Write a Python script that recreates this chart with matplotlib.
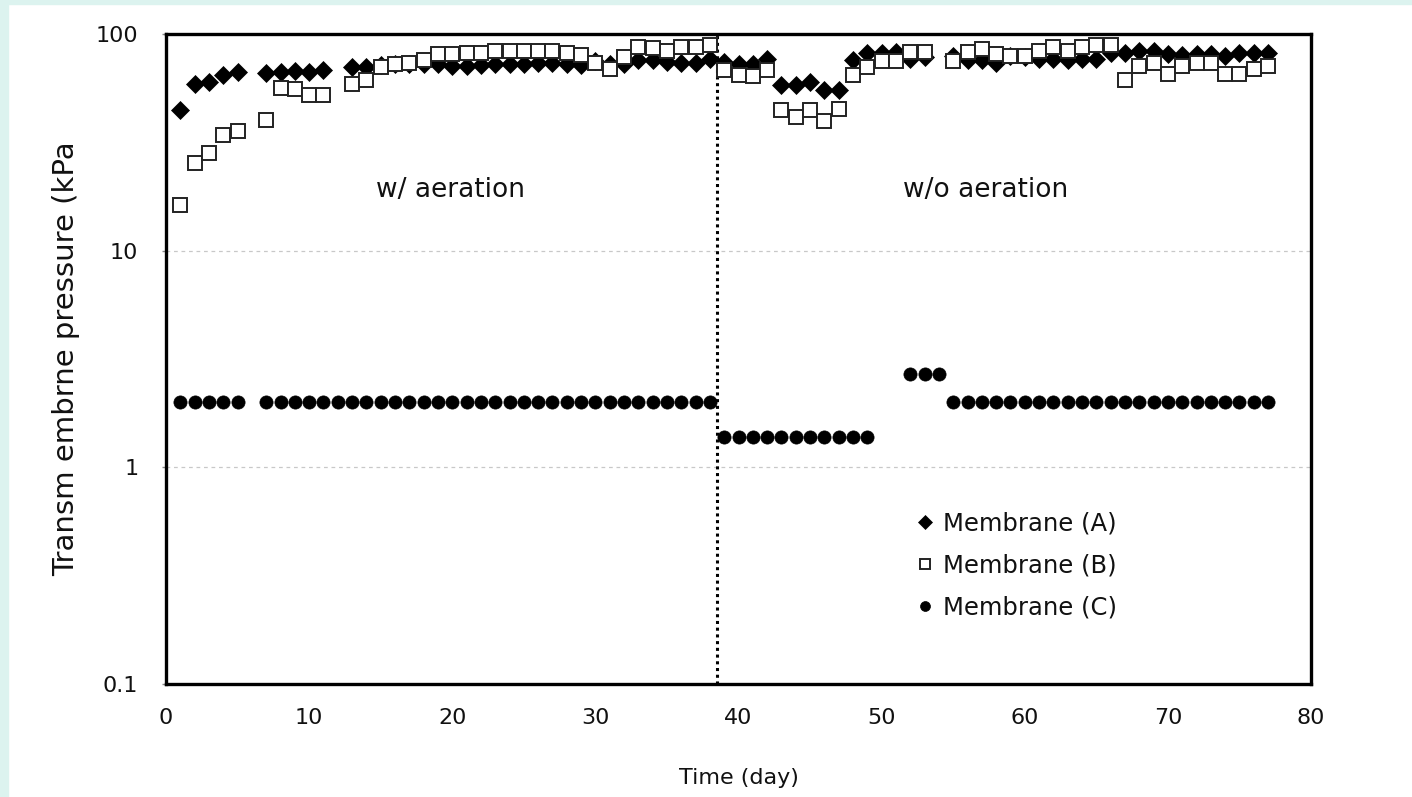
import matplotlib
matplotlib.use("Agg")
import matplotlib.pyplot as plt
from matplotlib.patches import Rectangle
import numpy as np

plt.rcParams['font.family'] = ['DejaVu Sans']

# ---- data ----
days_a = [1, 2, 3, 4, 5, 7, 8, 9, 10, 11, 13, 14, 15, 16, 17, 18, 19, 20,
          21, 22, 23, 24, 25, 26, 27, 28, 29, 30, 31, 32, 33, 34, 35, 36, 37, 38,
          39, 40, 41, 42, 43, 44, 45, 46, 47, 48, 49, 50, 51, 52, 53,
          55, 56, 57, 58, 59, 60, 61, 62, 63, 64, 65, 66, 67, 68, 69, 70,
          71, 72, 73, 74, 75, 76, 77]
tmp_a = [44.6, 58.6, 60.3, 64.7, 66.6, 66, 67, 67.5, 67, 68.2, 70.7, 70.7, 72, 73, 73, 73, 72.5, 71,
         71, 72, 73, 73, 73, 73.5, 73.5, 73, 72, 75, 73, 73, 76, 76, 74.5, 73.5, 73.5, 76.5,
         74.5, 73, 73, 77, 58.2, 58.2, 60.2, 55.2, 55.2, 75.9, 81.4, 81.4, 82.9, 76.4, 78,
         79, 75.9, 75.9, 73.8, 79, 78, 77, 76.4, 75.5, 76.4, 77, 81.4, 81.4, 83.8, 83.8, 81,
         80, 80.9, 80.9, 79, 81.4, 81.4, 81.4]

days_b = [1, 2, 3, 4, 5, 7, 8, 9, 10, 11, 13, 14, 15, 16, 17, 18, 19, 20,
          21, 22, 23, 24, 25, 26, 27, 28, 29, 30, 31, 32, 33, 34, 35, 36, 37, 38,
          39, 40, 41, 42, 43, 44, 45, 46, 47, 48, 49, 50, 51, 52, 53,
          55, 56, 57, 58, 59, 60, 61, 62, 63, 64, 65, 66, 67, 68, 69, 70,
          71, 72, 73, 74, 75, 76, 77]
tmp_b = [16.3, 25.3, 28.1, 34.2, 35.7, 40.1, 56.1, 56, 52.3, 52.3, 58.6, 61.4, 70.7, 72.5, 73.2, 75.9, 80.9, 80.9,
         82, 82, 83.8, 83.8, 83.8, 83.8, 83.8, 81.4, 80, 73.2, 68.7, 78.6, 87.4, 85.9, 83.8, 87.4, 87.4, 89,
         68.2, 64.7, 64, 68.2, 44.6, 41.5, 44.6, 39.8, 45.1, 64.7, 70.7, 75.3, 75.3, 82.9, 82.9,
         75.3, 82.4, 85.5, 80.5, 79.5, 79.5, 83.8, 87.4, 83.8, 87.4, 89, 89, 61.4, 71.2, 73.2, 65.4,
         71.2, 73.2, 73.2, 65.4, 65.4, 68.7, 71.2]

days_c = [1, 2, 3, 4, 5] + list(range(7, 39)) + list(range(39, 50)) + [52, 53, 54] + list(range(55, 78))
tmp_c = [2.0] * 5 + [2.0] * 32 + [1.38] * 11 + [2.7] * 3 + [2.0] * 23

aeration_switch = 38.5
x_ticks = [0, 10, 20, 30, 40, 50, 60, 70, 80]
y_ticks = [0.1, 1, 10, 100]
y_tick_labels = ['0.1', '1', '10', '100']

# ---- figure ----
fig = plt.figure(figsize=(14.12, 7.97), dpi=100)
fig.patch.set_facecolor('white')
teal = '#dcf3ef'
fig.patches.append(Rectangle((0, 0), 8 / 1412, 1, transform=fig.transFigure, color=teal, zorder=0))
fig.patches.append(Rectangle((0, 1 - 4 / 797), 1, 4 / 797, transform=fig.transFigure, color=teal, zorder=0))

ax = fig.add_axes([166 / 1412, 1 - 684 / 797, (1311 - 166) / 1412, (684 - 34) / 797])
ax.set_yscale('log')
ax.set_xlim(0, 80)
ax.set_ylim(0.1, 100)

for yv in [1, 10]:
    ax.axhline(yv, color='#c8c8c8', lw=0.9, ls=(0, (3, 3)), zorder=1)

ax.axvline(aeration_switch, color='black', lw=2.2, ls=(0, (1, 1.2)), zorder=2)

ax.plot(days_a, tmp_a, ls='none', marker='D', ms=9.5, mfc='black', mec='black', mew=0.5,
        label='Membrane (A)', zorder=3)
ax.plot(days_b, tmp_b, ls='none', marker='s', ms=9.5, mfc='white', mec='#222222', mew=1.4,
        label='Membrane (B)', zorder=4)
ax.plot(days_c, tmp_c, ls='none', marker='o', ms=9.5, mfc='black', mec='black', mew=0.5,
        label='Membrane (C)', zorder=3)

ax.set_xticks(x_ticks)
ax.set_xticklabels([str(t) for t in x_ticks])
ax.set_yticks(y_ticks)
ax.set_yticklabels(y_tick_labels)
ax.yaxis.set_minor_locator(matplotlib.ticker.NullLocator())
ax.tick_params(axis='both', labelsize=16, color='#888888', labelcolor='#111111')
ax.tick_params(axis='x', pad=17, length=0)
ax.tick_params(axis='y', pad=17, length=3, width=1)

for sp in ax.spines.values():
    sp.set_linewidth(2.4)
    sp.set_color('black')

ax.set_xlabel('Time (day)', fontsize=16, labelpad=29, color='#111111')
ax.set_ylabel('Transm embrne pressure (kPa', fontsize=21, labelpad=11, color='#111111')

ax.text(19.9, 19, 'w/ aeration', fontsize=19, ha='center', va='center', color='#111111')
ax.text(57.3, 19, 'w/o aeration', fontsize=19, ha='center', va='center', color='#111111')

leg = ax.legend(loc='upper left', bbox_to_anchor=(0.652, 0.266), frameon=False, fontsize=17.5,
                handletextpad=0.25, handlelength=1.0, labelspacing=0.74, markerscale=0.75,
                borderaxespad=0, borderpad=0)
for t in leg.get_texts():
    t.set_color('#111111')

fig.savefig('out.png', dpi=100, facecolor=fig.get_facecolor())
